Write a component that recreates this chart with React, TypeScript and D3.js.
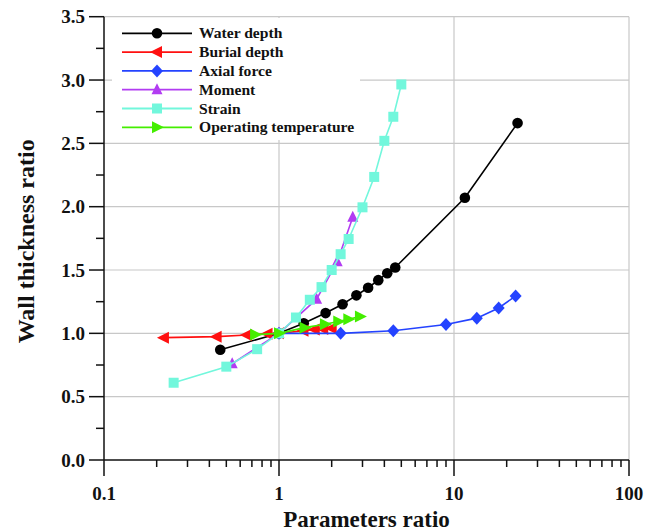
import React from "react";
import * as d3 from "d3";

// Parameter ratio (x) and wall thickness ratio (y) for each sensitivity series
const waterDepthX = [0.4615, 1, 1.385, 1.846, 2.308, 2.769, 3.231, 3.692, 4.154, 4.615, 11.54, 23.08];
const waterDepthY = [0.87, 1.0, 1.08, 1.16, 1.23, 1.30, 1.36, 1.42, 1.475, 1.52, 2.07, 2.66];

const burialDepthX = [0.22, 0.44, 0.655, 0.86, 1, 1.38, 1.6, 1.79, 2.0];
const burialDepthY = [0.966, 0.974, 0.987, 0.996, 1.0, 1.02, 1.03, 1.035, 1.04];

const axialForceX = [1, 2.25, 4.5, 9, 13.5, 18, 22.5];
const axialForceY = [1.0, 1.0, 1.02, 1.07, 1.12, 1.2, 1.295];

const momentX = [0.54, 1, 1.64, 2.15, 2.64];
const momentY = [0.76, 1.0, 1.27, 1.565, 1.917];

const strainX = [0.25, 0.5, 0.75, 1, 1.25, 1.5, 1.75, 2, 2.25, 2.5, 3, 3.5, 4, 4.5, 5];
const strainY = [0.61, 0.737, 0.875, 1.0, 1.125, 1.265, 1.365, 1.5, 1.625, 1.745, 1.995, 2.235, 2.52, 2.71, 2.965];

const tempX = [0.73, 1, 1.4, 1.83, 2.18, 2.49, 2.9];
const tempY = [0.99, 1.0, 1.045, 1.072, 1.093, 1.111, 1.132];

const seriesNames = ["Water depth", "Burial depth", "Axial force", "Moment", "Strain", "Operating temperature"];
const seriesColors = ["#000000", "#ff1010", "#2443ff", "#b23cf2", "#72f7dc", "#44ee00"];

const xTickValues = [0.1, 1, 10, 100];
const yTickValues = [0, 0.5, 1, 1.5, 2, 2.5, 3, 3.5];

const W = 658;
const H = 532;
const left = 104;
const right = 629;
const top = 16.7;
const bottom = 460;

const x = d3.scaleLog().domain([0.1, 100]).range([left, right]);
const y = d3.scaleLinear().domain([0, 3.5]).range([bottom, top]);

type Shape = "circle" | "triLeft" | "diamond" | "triUp" | "square" | "triRight";
const shapes: Shape[] = ["circle", "triLeft", "diamond", "triUp", "square", "triRight"];

function Marker({ shape, cx, cy, color }: { shape: Shape; cx: number; cy: number; color: string }) {
  switch (shape) {
    case "circle":
      return <circle cx={cx} cy={cy} r={5.3} fill={color} />;
    case "square":
      return <rect x={cx - 5} y={cy - 5} width={10} height={10} fill={color} />;
    case "diamond":
      return <path d={`M${cx},${cy - 6.5}L${cx + 6},${cy}L${cx},${cy + 6.5}L${cx - 6},${cy}Z`} fill={color} />;
    case "triUp":
      return <path d={`M${cx},${cy - 6.5}L${cx + 5.5},${cy + 4.5}L${cx - 5.5},${cy + 4.5}Z`} fill={color} />;
    case "triLeft":
      return <path d={`M${cx - 7},${cy}L${cx + 5},${cy - 6}L${cx + 5},${cy + 6}Z`} fill={color} />;
    case "triRight":
      return <path d={`M${cx + 7},${cy}L${cx - 5},${cy - 6}L${cx - 5},${cy + 6}Z`} fill={color} />;
  }
}

const seriesData = [
  [waterDepthX, waterDepthY],
  [burialDepthX, burialDepthY],
  [axialForceX, axialForceY],
  [momentX, momentY],
  [strainX, strainY],
  [tempX, tempY],
];

export default function App() {
  const line = d3
    .line<[number, number]>()
    .x((d) => x(d[0]))
    .y((d) => y(d[1]));

  const xMinor: number[] = [];
  for (let dec = 0.1; dec < 100; dec *= 10) {
    for (let k = 2; k <= 9; k++) xMinor.push(dec * k);
  }
  const yMinor = d3.range(0.25, 3.5, 0.5);

  const font = "'Liberation Serif', 'Times New Roman', serif";
  const legendRowY = (i: number) => 33.3 + i * 18.8;

  return (
    <svg width={W} height={H} style={{ position: "absolute", left: 0, top: 0, background: "#fff" }}>
      {/* grid */}
      <g stroke="#c8c8c8" strokeWidth={1.2}>
        {xTickValues.slice(1).map((v) => (
          <line key={"gx" + v} x1={x(v)} x2={x(v)} y1={top} y2={bottom} />
        ))}
        {yTickValues.slice(1).map((v) => (
          <line key={"gy" + v} x1={left} x2={right} y1={y(v)} y2={y(v)} />
        ))}
      </g>

      {/* axes */}
      <g stroke="#111" strokeWidth={1.5}>
        <line x1={left} x2={left} y1={top} y2={bottom} />
        <line x1={left} x2={right} y1={bottom} y2={bottom} />
        {xTickValues.map((v) => (
          <line key={"xt" + v} x1={x(v)} x2={x(v)} y1={bottom} y2={bottom + 16} />
        ))}
        {xMinor.map((v) => (
          <line key={"xm" + v} x1={x(v)} x2={x(v)} y1={bottom} y2={bottom + 7} />
        ))}
        {yTickValues.map((v) => (
          <line key={"yt" + v} x1={left - 15} x2={left} y1={y(v)} y2={y(v)} />
        ))}
        {yMinor.map((v) => (
          <line key={"ym" + v} x1={left - 8} x2={left} y1={y(v)} y2={y(v)} />
        ))}
      </g>

      {/* tick labels */}
      <g fontFamily={font} fontWeight="bold" fontSize={19} fill="#111">
        {xTickValues.map((v) => (
          <text key={"xl" + v} x={x(v)} y={bottom + 40} textAnchor="middle">
            {String(v)}
          </text>
        ))}
        {yTickValues.map((v) => (
          <text key={"yl" + v} x={left - 19} y={y(v)} dy="0.35em" textAnchor="end">
            {v.toFixed(1)}
          </text>
        ))}
      </g>

      {/* axis titles */}
      <text
        x={(left + right) / 2}
        y={527}
        textAnchor="middle"
        fontFamily={font}
        fontWeight="bold"
        fontSize={23}
        fill="#111"
      >
        Parameters ratio
      </text>
      <text
        transform={`translate(34,${(top + bottom) / 2 + 3}) rotate(-90)`}
        textAnchor="middle"
        fontFamily={font}
        fontWeight="bold"
        fontSize={24}
        fill="#111"
      >
        Wall thickness ratio
      </text>

      {/* series */}
      {seriesData.map(([xs, ys], i) => {
        const pts = xs.map((v, j) => [v, ys[j]] as [number, number]);
        return (
          <g key={seriesNames[i]}>
            <path d={line(pts) || ""} fill="none" stroke={seriesColors[i]} strokeWidth={1.6} />
            {pts.map((p, j) => (
              <Marker key={j} shape={shapes[i]} cx={x(p[0])} cy={y(p[1])} color={seriesColors[i]} />
            ))}
          </g>
        );
      })}

      {/* legend */}
      <rect x={112} y={18} width={248} height={122} fill="#fff" />
      {seriesNames.map((name, i) => {
        const ly = legendRowY(i);
        return (
          <g key={"lg" + name}>
            <line x1={122} x2={192} y1={ly} y2={ly} stroke={seriesColors[i]} strokeWidth={1.8} />
            <Marker shape={shapes[i]} cx={157} cy={ly} color={seriesColors[i]} />
            <text
              x={199}
              y={ly}
              dy="0.33em"
              fontFamily={font}
              fontWeight="bold"
              fontSize={15.6}
              fill="#111"
            >
              {name}
            </text>
          </g>
        );
      })}
    </svg>
  );
}
